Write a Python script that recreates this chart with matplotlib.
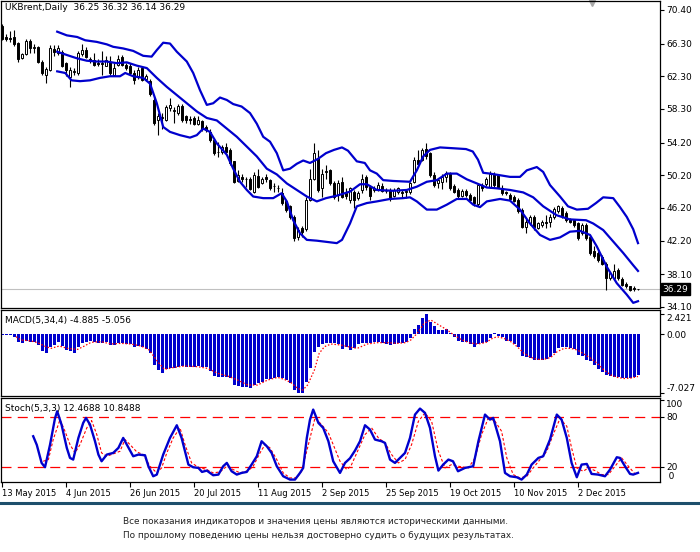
import matplotlib
matplotlib.use('Agg')
import matplotlib.pyplot as plt
from matplotlib.lines import Line2D
import numpy as np

plt.rcParams['font.family'] = 'DejaVu Sans'
plt.rcParams['font.size'] = 6.5

# daily bars, index 0 = 13 May 2015
opens = [
    68.4, 67.1, 66.95, 67.1, 66.4, 64.5, 65.0, 66.6, 65.7, 65.9,
    64.1, 62.5, 63.1, 65.6, 65.2, 65.3, 63.9, 62.2, 62.8, 62.7,
    65.0, 65.5, 64.4, 64.3, 63.9, 63.9, 63.6, 64.1, 62.5, 63.7,
    64.7, 63.7, 63.5, 62.7, 62.2, 63.3, 62.0, 61.7, 59.4, 56.9,
    57.2, 57.0, 58.4, 58.1, 57.8, 58.7, 57.4, 57.1, 57.2, 56.5,
    56.8, 56.1, 55.5, 54.5, 53.0, 53.0, 53.6, 53.3, 51.9, 49.5,
    50.0, 49.7, 49.7, 48.2, 50.1, 49.3, 50.0, 49.6, 48.9, 48.7,
    48.0, 47.0, 46.4, 45.1, 42.7, 43.7, 43.6, 47.2, 49.8, 52.3,
    48.6, 50.6, 50.8, 49.3, 47.8, 49.4, 48.0, 47.2, 48.2, 47.4,
    48.4, 50.0, 48.8, 48.4, 48.5, 48.9, 48.3, 48.4, 47.7, 48.1,
    48.2, 48.2, 48.1, 49.4, 52.1, 52.1, 53.4, 52.9, 50.2, 49.2,
    49.4, 50.0, 50.4, 48.9, 48.4, 47.7, 48.3, 47.8, 47.5, 46.7,
    49.0, 49.1, 48.8, 50.4, 50.2, 48.6, 48.1, 47.8, 47.6, 47.2,
    46.0, 43.9, 44.3, 45.1, 43.8, 44.1, 44.5, 44.5, 45.1, 45.8,
    46.2, 45.6, 44.8, 44.7, 44.3, 43.1, 44.1, 42.7, 40.9, 40.7,
    40.2, 39.4, 37.6, 37.6, 38.6, 37.5, 36.9, 36.6, 36.4, 36.25,
]
highs = [
    68.7, 67.5, 67.8, 67.9, 66.5, 65.2, 66.9, 66.8, 66.3, 66.0,
    64.3, 63.4, 66.1, 66.1, 66.1, 65.5, 64.1, 63.4, 63.3, 65.4,
    66.3, 65.9, 64.7, 65.1, 64.4, 65.4, 64.8, 64.8, 63.9, 64.9,
    64.9, 63.9, 63.9, 63.1, 63.4, 63.4, 62.6, 62.0, 59.8, 57.8,
    57.8, 58.8, 59.6, 58.6, 58.9, 58.9, 57.6, 57.4, 57.4, 57.4,
    57.0, 56.3, 55.8, 54.7, 54.3, 53.9, 54.1, 53.5, 52.0, 50.8,
    50.3, 50.0, 50.0, 50.6, 51.0, 50.0, 50.3, 49.8, 49.2, 49.0,
    48.6, 47.2, 46.6, 45.3, 43.9, 44.0, 47.6, 51.0, 54.2, 53.3,
    51.0, 51.5, 51.0, 49.5, 49.6, 50.0, 48.6, 48.8, 48.4, 48.3,
    50.4, 50.2, 49.0, 48.9, 49.4, 49.2, 48.6, 48.6, 48.6, 48.8,
    48.4, 48.5, 49.4, 52.4, 53.3, 53.5, 54.1, 53.1, 50.6, 49.8,
    50.4, 50.7, 50.6, 49.1, 48.6, 48.5, 48.5, 48.0, 47.7, 49.3,
    49.3, 50.0, 50.7, 50.6, 50.4, 49.0, 48.3, 48.0, 47.8, 47.4,
    46.2, 44.9, 45.3, 45.3, 44.5, 44.7, 45.3, 45.5, 46.3, 46.6,
    46.4, 45.8, 45.0, 44.9, 44.5, 44.3, 44.3, 42.9, 41.5, 40.9,
    40.4, 39.6, 38.4, 39.3, 38.8, 37.7, 37.1, 36.7, 36.6, 36.32,
]
lows = [
    66.7, 66.6, 66.5, 66.0, 64.1, 64.4, 64.9, 65.1, 65.1, 63.9,
    62.5, 61.5, 62.9, 64.8, 64.9, 63.4, 62.3, 61.0, 62.5, 62.5,
    64.8, 64.5, 63.9, 63.5, 63.5, 62.5, 63.5, 62.5, 62.3, 63.5,
    63.5, 63.1, 62.4, 61.3, 62.0, 61.7, 61.7, 59.9, 56.3, 55.1,
    55.8, 56.8, 58.0, 56.6, 57.6, 56.7, 56.6, 56.5, 56.3, 56.3,
    55.6, 55.5, 54.3, 52.7, 52.4, 52.8, 52.9, 51.4, 49.2, 49.4,
    49.4, 48.8, 48.4, 48.0, 48.6, 49.1, 49.4, 48.4, 48.2, 48.2,
    46.6, 45.7, 44.9, 42.1, 42.3, 42.6, 43.4, 47.0, 49.6, 48.2,
    47.6, 49.8, 49.0, 47.3, 47.1, 47.4, 47.3, 46.8, 46.2, 47.2,
    48.0, 48.4, 47.2, 48.2, 48.3, 48.1, 48.0, 47.1, 47.5, 47.9,
    47.4, 47.4, 47.9, 49.2, 51.4, 51.9, 52.2, 50.0, 48.8, 48.7,
    48.5, 49.4, 48.4, 48.0, 47.4, 47.5, 47.6, 47.0, 46.5, 46.4,
    48.3, 48.9, 48.6, 48.8, 48.6, 47.8, 47.8, 47.1, 46.9, 45.6,
    43.7, 43.1, 44.1, 43.5, 43.6, 43.9, 43.7, 43.9, 44.9, 45.6,
    45.0, 44.5, 44.3, 43.9, 42.3, 42.9, 42.3, 40.5, 40.1, 39.6,
    39.2, 36.2, 37.4, 37.4, 37.4, 36.6, 36.4, 36.0, 36.1, 36.14,
]
closes = [
    66.9, 66.9, 66.9, 66.3, 64.4, 65.0, 66.6, 65.7, 65.9, 64.1,
    62.7, 63.2, 65.8, 65.3, 65.7, 63.6, 63.1, 63.1, 63.0, 65.1,
    65.5, 64.7, 64.2, 63.7, 63.8, 63.85, 64.3, 62.7, 63.3, 64.4,
    63.7, 63.3, 62.7, 61.8, 63.1, 61.9, 62.3, 60.1, 56.6, 57.4,
    57.3, 58.5, 58.8, 58.1, 58.7, 57.0, 56.9, 57.0, 56.5, 57.0,
    55.8, 55.7, 54.5, 52.9, 53.1, 53.6, 53.1, 51.7, 49.4, 50.2,
    49.7, 49.75, 48.5, 50.2, 48.8, 49.7, 49.7, 48.6, 48.9, 48.6,
    46.8, 46.0, 45.1, 42.5, 43.5, 43.3, 47.2, 49.8, 52.9, 48.4,
    50.4, 50.7, 49.2, 47.5, 49.2, 47.6, 47.7, 48.6, 47.2, 48.0,
    49.8, 48.8, 47.7, 48.6, 49.0, 48.3, 48.3, 47.3, 48.4, 48.6,
    48.0, 48.2, 49.2, 52.1, 51.6, 53.3, 52.5, 50.2, 49.0, 49.6,
    50.0, 50.5, 48.6, 48.2, 47.7, 48.3, 47.8, 47.2, 46.8, 49.0,
    48.6, 49.8, 50.4, 49.0, 48.8, 48.0, 48.0, 47.3, 47.1, 45.8,
    43.9, 44.5, 45.1, 43.9, 44.3, 44.5, 44.3, 45.1, 46.1, 46.4,
    45.2, 44.7, 44.5, 44.1, 42.5, 44.1, 42.5, 40.7, 40.3, 39.8,
    39.4, 37.6, 38.2, 38.5, 37.6, 36.8, 36.6, 36.2, 36.35, 36.29,
]

# Bollinger bands (bar index, price)
upper_x = [13.8, 16.2, 18.8, 20.8, 23.7, 26.2, 27.8, 30.3, 32.8, 35.3, 37.4, 38.7,
           40.3, 42.0, 43.7, 46.2, 47.8, 49.5, 51.2, 52.8, 54.5, 56.2, 57.8, 59.9,
           62.0, 63.7, 65.3, 67.0, 68.7, 70.3, 72.0, 73.7, 75.3, 77.0, 79.0, 81.0,
           83.0, 85.0, 86.5, 88.7, 90.7, 92.0, 93.7, 95.3, 97.8, 102.0, 103.7, 105.3,
           107.0, 109.5, 112.8, 116.0, 117.7, 119.0, 120.3, 122.0, 124.5, 127.0, 129.5,
           131.2, 133.7, 135.3, 137.0, 139.5, 141.5, 143.7, 146.5, 148.5, 150.3, 152.8,
           154.5, 156.2, 157.8, 159.0]
upper = [67.75, 67.3, 67.1, 66.7, 66.5, 66.2, 65.9, 65.7, 65.4, 64.8, 64.7, 65.5,
         66.4, 66.3, 65.3, 64.1, 62.7, 60.6, 58.8, 59.0, 59.7, 59.4, 58.9, 58.6,
         57.8, 56.5, 54.9, 54.3, 52.9, 50.8, 51.0, 51.6, 52.0, 51.7, 52.2, 52.9,
         53.3, 53.6, 53.2, 51.9, 51.7, 50.8, 50.4, 49.6, 49.5, 49.4, 50.8, 52.5,
         53.3, 53.6, 53.5, 53.4, 53.1, 52.1, 50.5, 50.4, 50.2, 50.0, 50.0,
         50.8, 51.2, 50.6, 49.0, 47.6, 46.4, 46.0, 46.1, 46.8, 47.5, 47.4,
         46.3, 45.1, 43.6, 41.9]
middle_x = [13.8, 16.2, 18.7, 21.2, 23.7, 26.2, 28.7, 31.2, 33.7, 36.2, 38.7, 41.2,
            43.7, 46.2, 48.7, 51.2, 53.7, 56.2, 58.7, 61.2, 63.7, 66.2, 68.7, 71.2,
            73.7, 76.2, 78.7, 81.0, 83.7, 87.0, 89.5, 91.2, 93.7, 97.8, 101.2, 103.7,
            106.2, 108.7, 111.2, 113.7, 116.2, 118.7, 121.2, 123.7, 127.0, 130.3, 132.8,
            135.3, 138.7, 142.0, 146.0, 147.8, 150.3, 152.8, 155.3, 157.8, 159.0]
middle = [65.3, 64.9, 64.5, 64.2, 64.1, 64.1, 63.9, 64.0, 63.6, 63.3, 62.1, 61.0,
          60.0, 59.0, 58.0, 57.2, 56.9, 55.9, 54.9, 53.7, 52.5, 51.0, 50.3, 49.2,
          48.4, 47.6, 47.0, 47.4, 47.7, 48.2, 49.1, 49.1, 48.4, 48.3, 48.4, 48.8,
          49.4, 49.6, 50.4, 50.4, 49.7, 49.2, 48.7, 48.6, 48.4, 48.1, 47.5,
          46.4, 45.3, 44.8, 44.7, 44.3, 43.5, 42.1, 40.7, 39.2, 38.5]
lower_x = [13.8, 15.8, 17.4, 19.5, 22.0, 24.5, 27.0, 29.5, 30.8, 32.8, 35.3, 37.0,
           38.7, 40.3, 42.0, 44.5, 47.0, 48.7, 50.3, 52.0, 53.7, 56.2, 57.8, 59.5,
           61.2, 62.8, 65.3, 67.8, 69.9, 71.2, 72.8, 74.5, 76.2, 78.7, 83.7, 85.0,
           87.0, 88.7, 91.2, 93.7, 97.0, 100.3, 102.0, 103.7, 106.2, 108.7, 111.2,
           113.7, 116.2, 117.8, 119.5, 121.2, 124.5, 127.0, 129.5, 132.0, 134.5, 137.0,
           139.5, 142.0, 144.5, 147.0, 148.7, 151.2, 153.7, 156.2, 157.8, 159.0]
lower = [62.9, 62.7, 61.8, 61.7, 61.8, 62.1, 62.3, 62.3, 62.7, 62.3, 62.1, 61.4,
         59.0, 56.1, 55.5, 55.1, 54.8, 55.1, 55.9, 55.5, 54.1, 52.7, 51.0, 49.4,
         48.4, 47.6, 47.4, 47.4, 48.0, 47.0, 44.7, 43.1, 42.3, 42.2, 41.9, 42.3,
         44.3, 46.4, 46.8, 47.0, 47.3, 47.4, 47.5, 47.0, 46.0, 46.0, 46.6,
         47.3, 47.3, 46.6, 46.3, 47.0, 47.3, 47.1, 46.0, 44.3, 42.9, 42.3,
         42.6, 43.3, 43.4, 42.9, 41.5, 39.0, 37.0, 35.6, 34.6, 34.8]

# MACD(5,34,4) histogram, one value per bar
macd = [
    -0.06, -0.12, -0.12, -0.32, -0.91, -1.11, -0.79, -0.91, -0.91, -1.31,
    -1.98, -2.22, -1.59, -1.31, -0.91, -1.43, -1.90, -2.02, -2.22, -1.59,
    -1.03, -0.91, -0.79, -0.91, -1.03, -1.03, -0.91, -1.31, -1.31, -1.11,
    -1.11, -1.19, -1.19, -1.59, -1.43, -1.51, -1.83, -2.22, -3.69, -4.29,
    -4.60, -4.21, -4.09, -4.09, -3.89, -3.81, -3.89, -3.89, -3.89, -3.81,
    -3.97, -3.97, -4.37, -5.00, -5.16, -5.08, -5.16, -5.28, -6.07, -6.15,
    -6.27, -6.27, -6.47, -6.07, -5.87, -5.67, -5.40, -5.32, -5.28, -5.16,
    -5.28, -5.48, -5.87, -6.67, -7.027, -6.98, -5.67, -4.09, -2.10, -1.59,
    -1.19, -1.03, -1.11, -1.11, -1.19, -1.83, -1.59, -1.85, -1.71, -1.19,
    -1.11, -1.11, -1.03, -0.91, -0.91, -1.03, -1.19, -1.31, -1.19, -1.11,
    -1.11, -0.91, -0.52, 0.56, 1.07, 1.87, 2.421, 1.47, 0.95, 0.48,
    0.48, 0.56, 0.16, -0.32, -0.79, -0.91, -0.91, -1.19, -1.59, -1.19,
    -1.03, -0.91, -0.52, 0.16, -0.24, -0.40, -0.79, -0.79, -1.19, -1.59,
    -2.62, -2.78, -2.90, -3.10, -3.10, -3.10, -3.02, -2.78, -2.22, -1.71,
    -1.59, -1.59, -1.71, -1.83, -2.50, -2.62, -3.10, -3.18, -3.69, -4.21,
    -4.48, -4.85, -5.05, -5.10, -5.12, -5.20, -5.28, -5.25, -5.10, -4.885,
]
macd_sig_x = [3.5, 4.75, 7.25, 8.9, 10.6, 12.25, 14.3, 16.4, 18.9, 20.6, 22.25, 24.75,
              27.25, 29.75, 32.25, 34.75, 36.8, 38.9, 40.6, 43.1, 45.6, 48.9, 51.4, 53.9,
              56.4, 58.9, 61.4, 63.9, 66.4, 68.9, 70.6, 72.25, 73.9, 75.2, 76.4, 78.1,
              79.3, 80.6, 82.25, 84.75, 87.25, 88.8, 91.3, 93.8, 96.3, 98.8, 100.9, 102.2,
              103.8, 105.5, 107.2, 109.25, 111.3, 113.0, 114.7, 116.75, 118.8, 120.9, 122.6,
              123.8, 125.5, 127.2, 128.8, 130.5, 132.2, 133.8, 135.5, 137.2, 138.8, 140.5,
              142.2, 143.8, 145.5, 147.2, 148.8, 150.5, 152.2, 153.8, 155.5, 157.2, 159.0]
macd_sig = [-0.32, -0.71, -0.83, -1.03, -1.43, -1.71, -1.43, -1.71, -1.83, -1.43, -0.99, -0.91,
            -1.19, -1.11, -1.19, -1.43, -1.90, -3.29, -4.21, -3.97, -3.81, -3.89, -4.09, -4.68,
            -5.00, -5.48, -6.07, -6.07, -5.48, -5.16, -5.40, -5.79, -6.47, -6.67, -6.07, -4.29,
            -2.30, -1.51, -1.19, -1.31, -1.59, -1.71, -1.19, -1.03, -1.03, -1.11, -1.03, -0.71,
            0.08, 1.27, 1.67, 1.07, 0.48, -0.12, -0.63, -1.03, -1.19, -1.03, -0.52,
            -0.32, -0.52, -0.91, -1.51, -2.30, -2.78, -3.02, -3.02, -2.78, -2.10, -1.71,
            -1.71, -1.90, -2.38, -2.90, -3.49, -4.29, -4.88, -5.16, -5.30, -5.25, -5.056]

# Stochastic(5,3,3)
stoch_x = [7.8, 8.7, 9.9, 10.75, 12.0, 13.25, 13.8, 14.9, 16.2, 17.0, 17.8, 19.1,
           20.3, 21.0, 22.0, 23.25, 24.1, 24.9, 26.2, 27.8, 29.1, 30.3, 31.2, 32.8,
           34.1, 35.75, 36.6, 37.8, 38.7, 40.3, 42.0, 43.7, 44.9, 46.6, 47.8, 49.1,
           50.0, 51.2, 52.8, 54.1, 55.3, 56.2, 57.4, 58.7, 59.9, 61.2, 62.4, 63.7,
           64.9, 66.2, 67.4, 68.7, 70.3, 72.0, 73.25, 74.5, 75.3, 76.2, 77.0, 77.8,
           79.1, 80.3, 81.6, 82.8, 84.5, 85.75, 87.0, 88.25, 89.5, 90.75, 92.0, 93.25,
           94.9, 95.75, 97.0, 98.25, 99.5, 100.75, 102.0, 103.25, 104.5, 105.75, 107.0,
           108.25, 109.1, 110.3, 111.6, 112.75, 114.0, 115.75, 117.8, 119.1, 120.75,
           122.0, 122.8, 124.5, 125.75, 127.0, 128.7, 129.9, 131.2, 132.4, 134.1, 135.3,
           137.0, 138.7, 139.9, 141.2, 142.4, 143.7, 144.9, 146.2, 147.4, 149.0, 150.75,
           152.0, 153.7, 154.5, 155.75, 157.0, 157.8, 159.0]
stoch_main = [56.4, 46.0, 24.4, 19.2, 46.0, 78.0, 86.4, 70.0, 42.4, 30.4, 28.4, 54.4,
              72.4, 78.4, 70.4, 50.4, 34.4, 26.4, 34.4, 36.4, 42.4, 54.4, 46.4, 32.4,
              34.4, 33.6, 20.4, 8.4, 10.4, 34.4, 54.4, 69.6, 54.4, 22.4, 19.2, 18.4,
              13.6, 15.2, 9.6, 10.4, 20.4, 24.4, 14.4, 10.4, 12.4, 13.6, 22.4, 32.4,
              50.4, 44.4, 36.4, 20.4, 8.4, 4.4, 4.4, 12.4, 18.4, 54.4, 76.4, 88.4,
              72.4, 66.4, 50.4, 26.4, 12.4, 24.4, 30.0, 39.2, 50.4, 69.6, 64.4, 52.4,
              50.4, 48.4, 28.4, 24.4, 30.4, 36.4, 54.4, 82.4, 89.6, 84.4, 66.4,
              32.4, 15.2, 22.4, 28.4, 26.4, 14.4, 18.4, 20.4, 50.4, 82.4,
              76.4, 78.4, 50.4, 12.4, 8.4, 7.2, 4.4, 10.4, 22.4, 30.4, 32.4,
              52.4, 82.4, 76.4, 54.4, 24.4, 7.2, 22.4, 23.2, 11.2, 10.4, 8.4,
              16.4, 31.2, 30.4, 20.4, 11.2, 10.4, 12.4688]
stoch_sig_x = [10.3, 11.6, 12.8, 14.5, 15.75, 17.0, 18.25, 19.5, 21.2, 22.4, 23.7, 24.9,
               26.2, 27.8, 29.5, 30.75, 32.0, 33.7, 35.3, 37.0, 38.7, 39.9, 41.2, 42.8,
               44.5, 45.75, 47.4, 49.1, 51.2, 52.8, 54.5, 56.2, 57.8, 59.5, 61.6, 62.8,
               64.5, 65.75, 67.0, 68.7, 70.3, 72.0, 73.7, 74.9, 76.6, 78.25, 79.9, 81.6,
               82.8, 84.5, 86.2, 87.2, 88.7, 90.75, 92.4, 94.1, 95.75, 97.4, 99.1, 100.75,
               102.4, 104.1, 105.75, 107.4, 109.1, 110.75, 112.4, 114.1, 116.6, 118.25,
               119.9, 121.6, 123.25, 124.9, 126.2, 127.8, 129.5, 131.2, 132.8, 134.5,
               136.2, 137.8, 139.5, 141.2, 142.4, 143.7, 145.3, 146.6, 148.25, 149.9,
               151.6, 153.25, 154.9, 156.6, 158.25, 159.0]
stoch_sig = [26.4, 28.4, 52.4, 76.4, 62.4, 46.4, 36.4, 46.4, 66.4, 75.2, 58.4, 36.4,
             32.4, 35.2, 38.4, 52.4, 46.4, 37.6, 34.4, 20.4, 12.4, 18.4, 36.4, 54.4,
             66.4, 46.4, 24.4, 19.2, 16.4, 12.4, 13.6, 20.4, 16.4, 12.4, 15.2, 20.4,
             36.4, 46.4, 42.4, 28.4, 12.4, 6.4, 6.4, 14.4, 46.4, 78.4, 70.4, 60.4,
             46.4, 26.4, 16.4, 20.4, 36.4, 58.4, 66.4, 54.4, 48.4, 34.4, 24.4, 28.4,
             46.4, 74.4, 84.4, 74.4, 38.4, 18.4, 22.4, 20.4, 18.4, 30.4,
             58.4, 78.4, 74.4, 62.4, 30.4, 10.4, 6.4, 8.4, 18.4, 28.4,
             38.4, 58.4, 77.6, 68.4, 42.4, 18.4, 14.4, 18.4, 15.2, 10.4,
             10.4, 20.4, 30.4, 20.4, 11.2, 10.8488]

price_ticks = [70.40, 66.30, 62.30, 58.30, 54.20, 50.20, 46.20, 42.20, 38.10, 34.10]
last_price = 36.29
date_pos = [0, 16, 32, 48, 64, 80, 96, 112, 128, 144]
date_labels = ['13 May 2015', '4 Jun 2015', '26 Jun 2015', '20 Jul 2015', '11 Aug 2015',
               '2 Sep 2015', '25 Sep 2015', '19 Oct 2015', '10 Nov 2015', '2 Dec 2015']
footer = ['Все показания индикаторов и значения цены являются историческими данными.',
          'По прошлому поведению цены нельзя достоверно судить о будущих результатах.']

BLUE = '#0000CD'
W, H = 700, 552
fig = plt.figure(figsize=(W / 100, H / 100), dpi=100)
fig.patch.set_facecolor('white')


def px_box(x0, y0, x1, y1):
    """pixel box (top-left origin) -> figure fraction rect"""
    return [x0 / W, 1 - y1 / H, (x1 - x0) / W, (y1 - y0) / H]


ax_p = fig.add_axes(px_box(1, 1, 660, 308))
ax_m = fig.add_axes(px_box(1, 310, 660, 396))
ax_s = fig.add_axes(px_box(1, 398, 660, 482))

n = len(closes)
idx = np.arange(n)
o = np.array(opens)
c = np.array(closes)
up = c >= o

for ax in (ax_p, ax_m, ax_s):
    ax.set_xlim(-0.25, 164.5)
    ax.yaxis.tick_right()
    ax.tick_params(axis='y', direction='out', length=3, width=0.8, pad=1.5,
                   labelsize=6.5, colors='black')
    for sp in ax.spines.values():
        sp.set_color('black')
        sp.set_linewidth(0.9)
ax_p.tick_params(axis='x', bottom=False, labelbottom=False)
ax_m.tick_params(axis='x', bottom=False, labelbottom=False)

# --- price panel
ax_p.axhline(last_price, color='#c0c0c0', lw=0.8, zorder=1)
ax_p.vlines(idx, lows, highs, color='black', lw=0.8, zorder=2)
body = np.maximum(np.abs(c - o), 0.03)
ax_p.bar(idx, body, bottom=np.minimum(o, c), width=0.55,
         color=np.where(up, 'white', 'black'), edgecolor='black', lw=0.7, zorder=3)
for bx, by in ((upper_x, upper), (middle_x, middle), (lower_x, lower)):
    ax_p.plot(bx, by, color=BLUE, lw=1.6, zorder=4, solid_joinstyle='round')
ax_p.set_ylim(33.97, 71.5)
ax_p.set_yticks(price_ticks)
ax_p.set_yticklabels([f'{t:.2f}' for t in price_ticks])
ax_p.text(1.004, last_price, f'{last_price:.2f}', transform=ax_p.get_yaxis_transform(),
          color='white', fontsize=6.5, va='center', ha='left', zorder=10, clip_on=False,
          bbox=dict(boxstyle='square,pad=0.2', fc='black', ec='black'))
ax_p.plot(0.897, 0.995, marker='v', ms=5, color='#a8a8a8', transform=ax_p.transAxes,
          clip_on=False)
ax_p.text(4 / 659, 1 - 7 / 307, 'UKBrent,Daily  36.25 36.32 36.14 36.29',
          transform=ax_p.transAxes, va='center', ha='left', fontsize=6.5)

# --- MACD panel
ax_m.bar(idx, macd, width=0.75, color=BLUE, lw=0)
ax_m.plot(macd_sig_x, macd_sig, color='red', lw=0.9, linestyle=(0, (1.2, 1.5)))
ax_m.set_ylim(-7.38, 2.86)
ax_m.set_yticks([2.421, 0, -7.027])
ax_m.set_yticklabels(['2.421', '0.00', '-7.027'])
lbl = ax_m.get_yticklabels()
lbl[0].set_va('top')
lbl[2].set_va('bottom')
ax_m.text(4 / 659, 1 - 10 / 86, 'MACD(5,34,4) -4.885 -5.056', transform=ax_m.transAxes,
          va='center', ha='left', fontsize=6.5)

# --- Stochastic panel
ax_s.axhline(80, color='red', lw=0.9, dashes=(8, 5))
ax_s.axhline(20, color='red', lw=0.9, dashes=(8, 5))
ax_s.plot(stoch_sig_x, stoch_sig, color='red', lw=0.8, dashes=(2.5, 1.8))
ax_s.plot(stoch_x, stoch_main, color=BLUE, lw=1.7, solid_joinstyle='round')
ax_s.set_ylim(1.5, 102.3)
ax_s.set_yticks([100, 80, 20])
ax_s.set_yticklabels(['100', '80', '20'])
ax_s.get_yticklabels()[0].set_va('top')
ax_s.text(1.0, 0.06, '   0', transform=ax_s.transAxes, va='center', ha='left',
          fontsize=6.5)
ax_s.text(4 / 659, 1 - 10 / 84, 'Stoch(5,3,3) 12.4688 10.8488', transform=ax_s.transAxes,
          va='center', ha='left', fontsize=6.5)
ax_s.set_xticks(date_pos)
ax_s.set_xticklabels(date_labels, ha='left')
ax_s.tick_params(axis='x', direction='out', length=3.5, width=0.8, pad=1.5, labelsize=6)

# separator and disclaimer
fig.add_artist(Line2D([0, 1], [1 - 503 / H, 1 - 503 / H], color='#1d4f6c', lw=2.2))
fig.text(123 / W, 1 - 522 / H, footer[0], ha='left', va='center', fontsize=6.4, color='#222222')
fig.text(123 / W, 1 - 535 / H, footer[1], ha='left', va='center', fontsize=6.4, color='#222222')

fig.savefig('out.png', dpi=100, facecolor='white')
